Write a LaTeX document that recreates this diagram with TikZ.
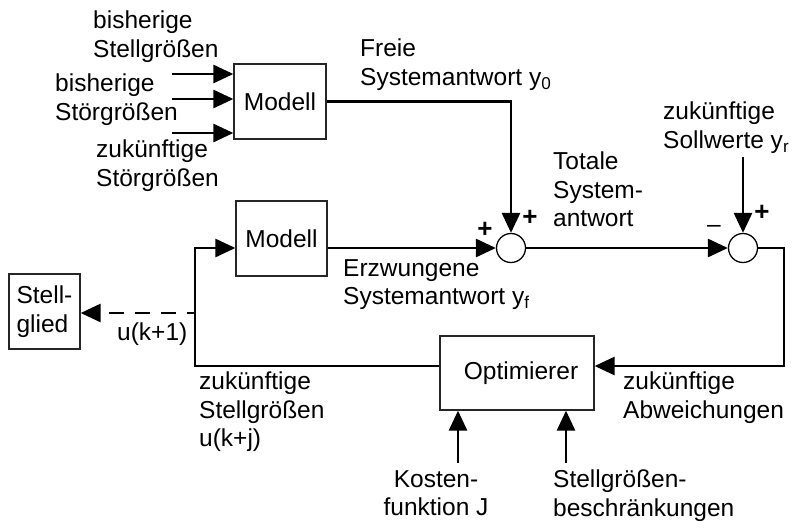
\documentclass[tikz,border=0pt]{standalone}
\usepackage{fontspec}
\setmainfont{Liberation Sans}
\usetikzlibrary{arrows.meta}
\begin{document}
\begin{tikzpicture}[x=1pt,y=-1pt,
  font=\fontsize{24.5}{28.5}\selectfont,
  blk/.style={draw=black!85,line width=1.3pt,minimum height=75pt,inner sep=0pt},
  sumc/.style={draw=black,line width=1.3pt,circle,minimum size=29pt,inner sep=0pt},
  arr/.style={line width=2.8pt,-{Triangle[length=20pt,width=18pt]}},
  lbl/.style={anchor=north west,align=left,inner sep=0pt},
  sgn/.style={inner sep=0pt,font=\fontsize{26}{28}\selectfont\bfseries}]
\useasboundingbox (0,0) rectangle (797,528);
% blocks
\node[blk,minimum width=92pt] (m1) at (280,101.5) {Modell};
\node[blk,minimum width=91pt] (m2) at (281.5,238.5) {Modell};
\node[blk,minimum width=71pt,align=left] (st) at (44.5,311.5) {Stell-\\glied};
\node[blk,minimum width=154pt,minimum height=74pt] (opt) at (517,373) {\hspace{8pt}Optimierer};
\node[sumc] (c1) at (511,248) {};
\node[sumc] (c2) at (743,248) {};
% free ends / corners
\coordinate (i1) at (172,74);
\coordinate (i2) at (172,99);
\coordinate (i3) at (172,133);
\coordinate (yr) at (743,157);
\coordinate (rc) at (784,366);
\coordinate (lc) at (195,366);
\coordinate (lt) at (195,248);
\coordinate (dj) at (195,313);
\coordinate (kf) at (458,463);
\coordinate (sb) at (566,463);
% connectors
\draw[arr] (i1) -- (i1 -| m1.west);
\draw[arr] (i2) -- (i2 -| m1.west);
\draw[arr] (i3) -- (i3 -| m1.west);
\draw[arr] (m1.east) -| (c1.north);
\draw[arr] (lt -| m2.east) -- (c1.west);
\draw[arr] (c1.east) -- (c2.west);
\draw[arr] (yr) -- (c2.north);
\draw[arr] (c2.east) -| (rc) -- (rc -| opt.east);
\draw[arr] (lc -| opt.west) -- (lc) -- (lt) -- (lt -| m2.west);
\draw[arr,dash pattern=on 15pt off 11pt,dash phase=7pt] (dj) -- (dj -| st.east);
\draw[arr] (kf) -- (kf |- opt.south);
\draw[arr] (sb) -- (sb |- opt.south);
% signs
\node[sgn] (p1) at (485,230) {+};
\node[sgn] (p2) at (530,218) {+};
\node[inner sep=0pt] (n2) at (714,229) {\textendash};
\node[sgn] (p3) at (762,213) {+};
% labels
\node[lbl] (t1) at (93,11) {bisherige\\Stellgrößen};
\node[lbl] (t2) at (55,74) {bisherige\\Störgrößen};
\node[lbl] (t3) at (96,140) {zukünftige\\Störgrößen};
\node[lbl] (t4) at (360,39) {Freie\\Systemantwort y\textsubscript{0}};
\node[lbl] (t5) at (553,152) {Totale\\System-\\antwort};
\node[lbl] (t6) at (663,102) {zukünftige\\Sollwerte y\textsubscript{r}};
\node[lbl] (t7) at (343,259) {Erzwungene\\Systemantwort y\textsubscript{f}};
\node[lbl] (t8) at (117,323) {u(k+1)};
\node[lbl] (t9) at (199,372) {zukünftige\\Stellgrößen\\u(k+j)};
\node[lbl] (t10) at (623,372) {zukünftige\\Abweichungen};
\node[anchor=north,align=center,inner sep=0pt] (t11) at (436,470) {Kosten-\\funktion J};
\node[lbl] (t12) at (553,470) {Stellgrößen-\\beschränkungen};
\end{tikzpicture}
\end{document}
